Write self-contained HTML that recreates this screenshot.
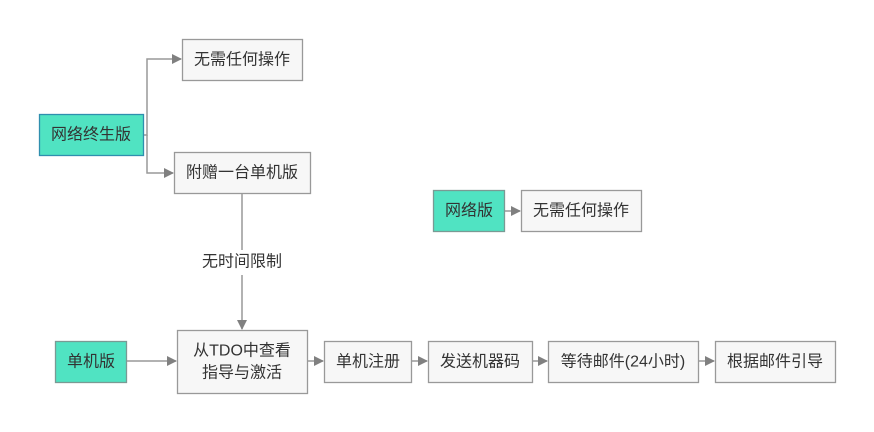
<!DOCTYPE html>
<html><head><meta charset="utf-8"><style>
html,body{margin:0;padding:0;background:#fff;width:874px;height:432px;overflow:hidden}
svg text{font-family:"Liberation Sans","Noto Sans CJK SC",sans-serif;font-size:16px;fill:#333;text-anchor:middle;dominant-baseline:central}
</style></head><body>
<svg width="874" height="432" viewBox="0 0 874 432" xmlns="http://www.w3.org/2000/svg">
<defs><marker id="a" markerWidth="10" markerHeight="10" refX="9" refY="5" orient="auto" markerUnits="userSpaceOnUse"><path d="M0,0 L10,5 L0,10 z" fill="#808080"/></marker></defs>
<g stroke="#999" stroke-width="1.5" fill="none">
<path d="M143,135 H147 V59 H181" marker-end="url(#a)"/>
<path d="M147,135 V173 H173" marker-end="url(#a)"/>
<path d="M242,193 V250"/>
<path d="M242,275 V329" marker-end="url(#a)"/>
<path d="M127,361 H176" marker-end="url(#a)"/>
<path d="M307,361 H323" marker-end="url(#a)"/>
<path d="M411,361 H427" marker-end="url(#a)"/>
<path d="M532,361 H547" marker-end="url(#a)"/>
<path d="M698,361 H714" marker-end="url(#a)"/>
<path d="M504,211 H520" marker-end="url(#a)"/>
</g>
<g stroke-width="1.3">
<rect x="39.5" y="114.5" width="104" height="41" fill="#50e3c2" stroke="#2f8fae"/>
<rect x="55.5" y="341.5" width="71" height="41" fill="#50e3c2" stroke="#7a9a94"/>
<rect x="433.5" y="190.5" width="71" height="41" fill="#50e3c2" stroke="#7a9a94"/>
<g fill="#f7f7f7" stroke="#999">
<rect x="182.5" y="39.5" width="120" height="41"/>
<rect x="174.5" y="152.5" width="136" height="41"/>
<rect x="177.5" y="330.5" width="130" height="63"/>
<rect x="324.5" y="341.5" width="87" height="41"/>
<rect x="428.5" y="341.5" width="104" height="41"/>
<rect x="548.5" y="341.5" width="150" height="41"/>
<rect x="715.5" y="341.5" width="120" height="41"/>
<rect x="521.5" y="190.5" width="120" height="41"/>
</g></g>
<text x="91" y="135">网络终生版</text>
<text x="242" y="60">无需任何操作</text>
<text x="242" y="173">附赠一台单机版</text>
<text x="242" y="262">无时间限制</text>
<text x="91" y="362">单机版</text>
<text x="242" y="351">从TDO中查看</text>
<text x="242" y="373">指导与激活</text>
<text x="368" y="362">单机注册</text>
<text x="480" y="362">发送机器码</text>
<text x="623" y="362">等待邮件(24小时)</text>
<text x="775" y="362">根据邮件引导</text>
<text x="469" y="211">网络版</text>
<text x="581" y="211">无需任何操作</text>
</svg>
</body></html>
